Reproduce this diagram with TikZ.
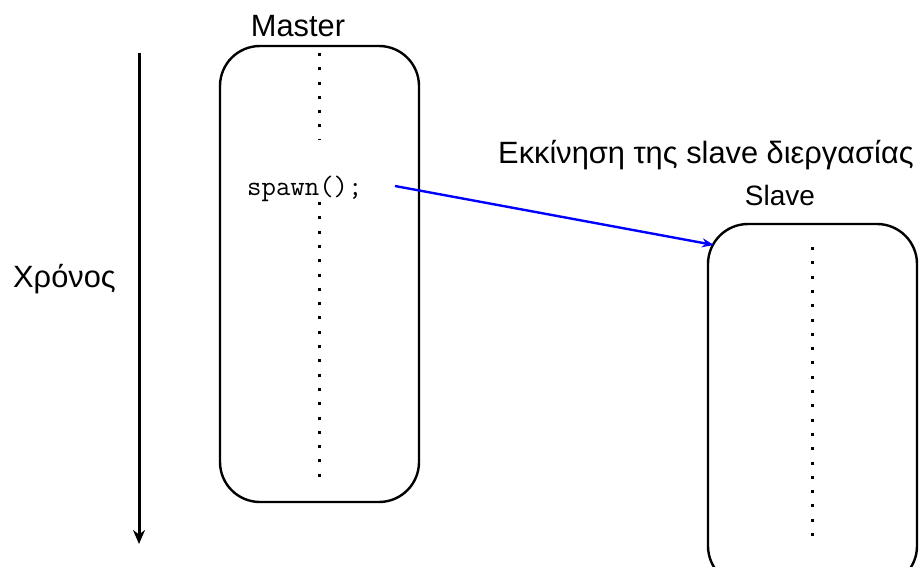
\documentclass[tikz,border=0pt]{standalone}
\usepackage{fontspec}
\setmainfont{Liberation Sans}
\usetikzlibrary{arrows.meta}
\begin{document}
\begin{tikzpicture}[x=1pt,y=-1pt,
  procbox/.style={draw=black,line width=2.4pt,rounded corners=40pt,inner sep=0pt},
  lifeline/.style={line width=3pt,dash pattern=on 3pt off 11.3pt},
  lbl/.style={font=\fontsize{30.8}{32}\selectfont,inner sep=0pt},
  timearrow/.style={line width=3pt,-{Stealth[length=14pt,width=12pt]}},
  spawnarrow/.style={draw=blue,line width=2.4pt,-{Stealth[length=12pt,width=9pt]}}]
\useasboundingbox (0,0) rectangle (923,567);
\clip (0,0) rectangle (923,567);
% master
\node[procbox,minimum width=199pt,minimum height=456pt] (master) at (319.5,274) {};
\node[lbl,anchor=base] (mlabel) at (298,37) {Master};
\coordinate (m1) at (319,53);
\coordinate (m2) at (319,140);
\coordinate (m3) at (319,202);
\coordinate (m4) at (319,478);
\draw[lifeline] (m1) -- (m2);
\draw[lifeline] (m3) -- (m4);
\node[font=\ttfamily\fontsize{28}{30}\selectfont,inner sep=0pt,anchor=base west] (spawn) at (247,195) {spawn();};
% slave
\node[procbox,minimum width=209pt,minimum height=362pt] (slave) at (812.5,405) {};
\node[lbl,font=\fontsize{28}{30}\selectfont,anchor=base] (slabel) at (780,205) {Slave};
\coordinate (s1) at (812,247);
\coordinate (s2) at (812,545);
\draw[lifeline] (s1) -- (s2);
% spawn message
\node[lbl,anchor=base west] (msg) at (498,163) {Εκκίνηση της slave διεργασίας};
\coordinate (from) at (395,186);
\coordinate (to) at (714,245);
\draw[spawnarrow] (from) -- (to);
% time
\coordinate (t1) at (139,53);
\coordinate (t2) at (139,544);
\draw[timearrow] (t1) -- (t2);
\node[lbl,anchor=base west] (time) at (13,287) {Χρόνος};
\end{tikzpicture}
\end{document}
